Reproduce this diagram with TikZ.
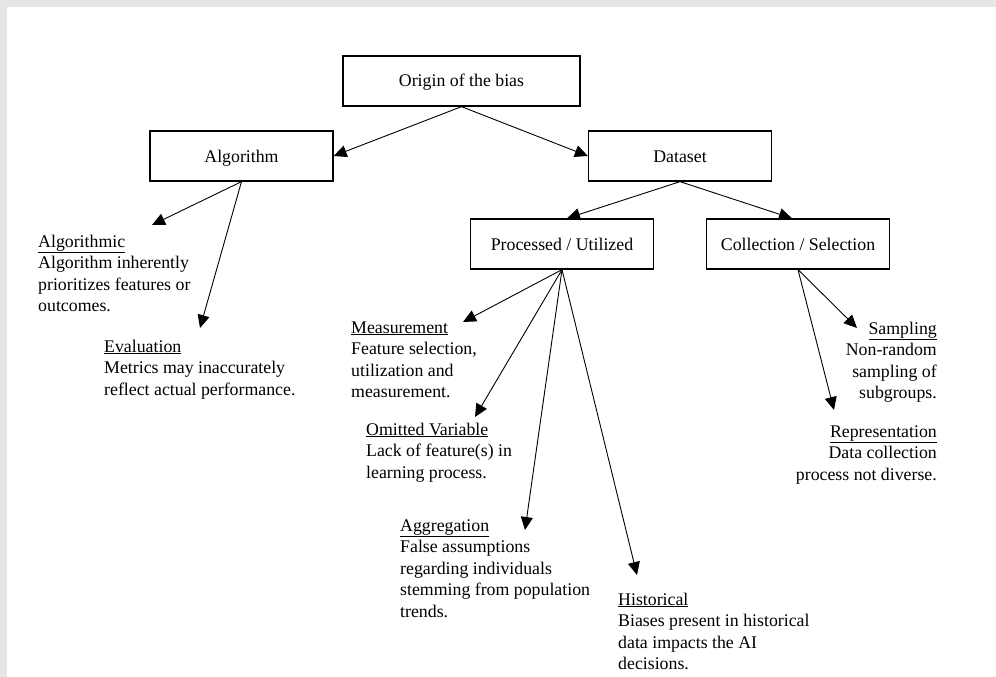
\documentclass[tikz,border=0pt]{standalone}
\usepackage{fontspec}
\setmainfont{Liberation Serif}
\usepackage{tikz}
\usetikzlibrary{arrows.meta}
\definecolor{framegray}{HTML}{E6E6E6}

\begin{document}
\begin{tikzpicture}[x=1pt,y=-1pt,
	box/.style={draw,line width=1.3pt,minimum width=183pt,minimum height=50pt,
		text height=15pt,text depth=3pt,
		font=\fontsize{17.8}{21.5}\selectfont},
	note/.style={align=left,inner sep=0pt,anchor=base west,
		font=\fontsize{17.8}{21.5}\selectfont},
	rnote/.style={note,align=right,anchor=base east},
	arr/.style={-{Triangle[length=13pt,width=12pt]},line width=0.9pt}
]
	\useasboundingbox (0,0) rectangle (996,677);
	\fill[framegray] (0,0) rectangle (996,7);
	\fill[framegray] (0,0) rectangle (7,677);

	\node[box,minimum width=237pt] at (461.5,81) (orig) {Origin of the bias};
	\node[box] at (241.5,156) (alg) {Algorithm};
	\node[box] at (680,156) (data) {Dataset};
	\node[box] at (562,244) (proc) {Processed / Utilized};
	\node[box] at (798,244) (coll) {Collection / Selection};

	% notes sit on the baseline of their last line
	\node[note] at (38,311.5) (algm) {\underline{Algorithmic}\\Algorithm inherently\\prioritizes features or\\outcomes.};
	\node[note] at (104,395) (eval) {\underline{Evaluation}\\Metrics may inaccurately\\reflect actual performance.};
	\node[note] at (351,397.5) (meas) {\underline{Measurement}\\Feature selection,\\utilization and\\measurement.};
	\node[note] at (366,478) (omit) {\underline{Omitted Variable}\\Lack of feature(s) in\\learning process.};
	\node[note] at (400,617) (aggr) {\underline{Aggregation}\\False assumptions\\regarding individuals\\stemming from population\\trends.};
	\node[note] at (618,669.5) (hist) {\underline{Historical}\\Biases present in historical\\data impacts the AI\\decisions.};
	\node[rnote] at (937,398.5) (samp) {\underline{Sampling}\\Non-random\\sampling of\\subgroups.};
	\node[rnote] at (937,480) (repr) {\underline{Representation}\\Data collection\\process not diverse.};

	% arrow points
	\coordinate (algm tip) at (152,225);
	\coordinate (eval tip) at (200,328);
	\coordinate (meas tip) at (463,322);
	\coordinate (omit tip) at (475,417);
	\coordinate (aggr tip) at (525,530);
	\coordinate (hist tip) at (637,575);
	\coordinate (samp tip) at (857,328);
	\coordinate (repr tip) at (834,410);

	\draw[arr] (orig.south) -- (alg.east);
	\draw[arr] (orig.south) -- (data.west);
	\draw[arr] (data.south) -- ([xshift=5pt]proc.north);
	\draw[arr] (data.south) -- ([xshift=-6pt]coll.north);
	\draw[arr] (alg.south) -- (algm tip);
	\draw[arr] (alg.south) -- (eval tip);
	\draw[arr] (proc.south) -- (meas tip);
	\draw[arr] (proc.south) -- (omit tip);
	\draw[arr] (proc.south) -- (aggr tip);
	\draw[arr] (proc.south) -- (hist tip);
	\draw[arr] (coll.south) -- (samp tip);
	\draw[arr] (coll.south) -- (repr tip);
\end{tikzpicture}
\end{document}
